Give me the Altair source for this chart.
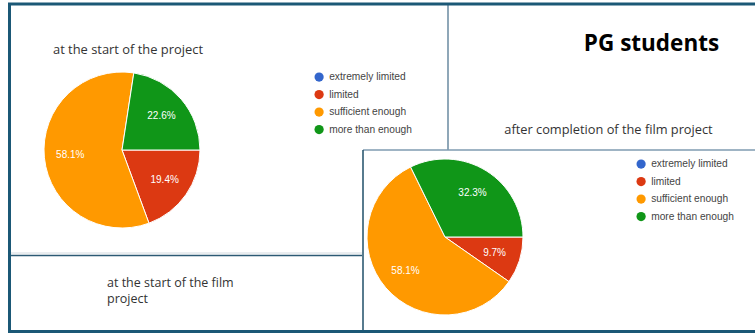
import math
import altair as alt
import pandas as pd

categories = ["extremely limited", "limited", "sufficient enough", "more than enough"]
start_pct = [0.0, 19.4, 58.1, 22.6]
after_pct = [0.0, 9.7, 58.1, 32.3]
colors = ["#3366cc", "#dc3912", "#ff9900", "#109618"]

title_main = "PG students"
title_start = "at the start of the project"
title_after = "after completion of the film project"
caption_start = ["at the start of the film", "project"]

dummy = pd.DataFrame({"d": [0]})
FONT = "Liberation Sans"
TFONT = "Open Sans"


def rule(x, x2, y, y2, color, width):
    return alt.Chart(dummy).mark_rule(color=color, strokeWidth=width).encode(
        x=alt.value(x), x2=alt.value(x2), y=alt.value(y), y2=alt.value(y2)
    )


def pie(values, cx, cy, lx, ly):
    df = pd.DataFrame({"category": categories, "value": values, "idx": list(range(len(categories)))})
    base = alt.Chart(df).encode(
        theta=alt.Theta("value:Q", stack=True,
                        scale=alt.Scale(range=[math.pi / 2, math.pi * 2.5], zero=True)),
        order=alt.Order("idx:Q"),
    )
    arcs = base.mark_arc(radius=78, stroke="white", strokeWidth=1).encode(
        x=alt.value(cx), y=alt.value(cy),
        color=alt.Color(
            "category:N",
            scale=alt.Scale(domain=categories, range=colors),
            sort=categories,
            title=None,
            legend=alt.Legend(orient="none", legendX=lx, legendY=ly, symbolType="circle",
                              symbolSize=85, labelFontSize=10.2, labelColor="#444",
                              labelFont=FONT, rowPadding=6.5, padding=0, labelOffset=5,
                              symbolStrokeWidth=0),
        ),
    )
    labels = base.transform_filter("datum.value > 0").transform_calculate(
        label="format(datum.value, '.1f') + '%'"
    ).mark_text(radius=52, fontSize=10, color="white", font=FONT).encode(
        x=alt.value(cx), y=alt.value(cy), text="label:N"
    )
    return arcs, labels


def text(t, x, y, size, align="left", weight="normal", color="#333", line_height=16, font=TFONT):
    return alt.Chart(dummy).mark_text(
        text=t, font=font, fontSize=size, fontWeight=weight, align=align,
        baseline="alphabetic", color=color, lineHeight=line_height
    ).encode(x=alt.value(x), y=alt.value(y))


frame = "#1b5876"
thin = "#2c5a74"
light = "#7f9bb0"

arcs1, labels1 = pie(start_pct, 122, 150, 314, 72)
arcs2, labels2 = pie(after_pct, 445, 237, 636, 159)

boxC_fill = alt.Chart(dummy).mark_rect(fill="white").encode(
    x=alt.value(363), x2=alt.value(755), y=alt.value(150), y2=alt.value(332)
)

layers = [
    rule(448, 448, 4, 150, "#6a8aa0", 1.5),
    rule(11, 362, 253, 253, "#d4dbe0", 1),
    rule(9, 362, 255.5, 255.5, thin, 1.5),
    arcs1, labels1,
    text(title_start, 53, 54, 12.9),
    text(caption_start, 107, 287, 12.5),
    text(title_main, 651.5, 51, 22.5, align="center", weight="bold", color="black"),
    text(title_after, 608.5, 134, 12.8, align="center"),
    boxC_fill,
    rule(363, 755, 150, 150, light, 1.5),
    rule(363, 363, 150, 332, "#1f4f68", 1.5),
    arcs2, labels2,
    rule(9.5, 9.5, 3, 333, frame, 3),
    rule(8, 755, 4, 4, frame, 3),
    rule(8, 755, 331.5, 331.5, frame, 3),
]

chart = alt.layer(*layers).resolve_scale(color="independent").properties(
    width=755, height=333, padding=0, autosize=alt.AutoSizeParams(type="none")
).configure_view(strokeWidth=0)

chart.save("out.html", embed_options={"renderer": "svg", "actions": False})
